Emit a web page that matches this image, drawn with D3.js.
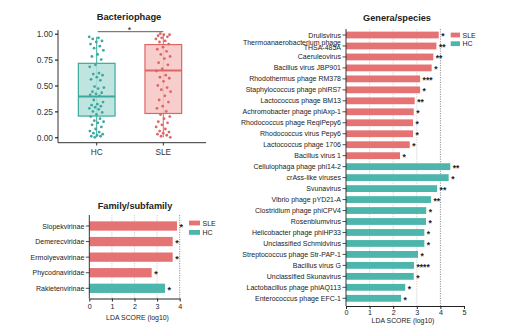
<!DOCTYPE html>
<html>
<head>
<meta charset="utf-8">
<script src="https://cdn.jsdelivr.net/npm/d3@7"></script>
<style>
  body { margin: 0; background: #fff; }
  svg { display: block; font-family: "Liberation Sans", Arial, sans-serif; }
</style>
</head>
<body>
<svg id="chart" width="510" height="331"></svg>
<script>
// --- data ---
const groups = ["HC", "SLE"];
// box stats: min, q1, median, q3, max
const boxStats = [
  [0.00, 0.205, 0.395, 0.714, 0.97],
  [0.00, 0.23, 0.645, 0.895, 1.00]
];
const hcPoints = [0.97, 0.96, 0.95, 0.93, 0.92, 0.90, 0.88, 0.86, 0.84, 0.80, 0.78, 0.75, 0.70, 0.68,
  0.62, 0.61, 0.60, 0.58, 0.56, 0.55, 0.49, 0.48, 0.47, 0.44, 0.43, 0.42, 0.41, 0.40, 0.36, 0.34,
  0.32, 0.31, 0.30, 0.29, 0.28, 0.27, 0.25, 0.24, 0.22, 0.20, 0.18, 0.16, 0.15, 0.14, 0.12, 0.10,
  0.08, 0.06, 0.05, 0.04, 0.03, 0.02, 0.01, 0.01, 0.00];
const slePoints = [1.00, 0.99, 0.99, 0.98, 0.97, 0.96, 0.95, 0.93, 0.92, 0.90, 0.87, 0.85, 0.83, 0.80,
  0.78, 0.76, 0.72, 0.70, 0.66, 0.64, 0.60, 0.58, 0.57, 0.54, 0.50, 0.48, 0.46, 0.44, 0.40, 0.36,
  0.34, 0.30, 0.28, 0.25, 0.22, 0.20, 0.18, 0.15, 0.14, 0.12, 0.10, 0.08, 0.06, 0.05, 0.04, 0.03,
  0.02, 0.01, 0.00];
const boxTicks = [0, 0.25, 0.5, 0.75, 1];

const famNames = ["Slopekvirinae", "Demerecviridae", "Ermolyevavirinae", "Phycodnaviridae", "Rakietenvirinae"];
const famScores = [3.88, 3.69, 3.69, 2.76, 3.35];
const famGroup = ["SLE", "SLE", "SLE", "SLE", "HC"];
const famStars = ["*", "*", "*", "*", "*"];

const genNames = ["Drulisvirus", "Thermoanaerobacterium phage|THSA-485A", "Caeruleovirus", "Bacillus virus JBP901",
  "Rhodothermus phage RM378", "Staphylococcus phage phiRS7", "Lactococcus phage BM13",
  "Achromobacter phage phiAxp-1", "Rhodococcus phage ReqiPepy6", "Rhodococcus virus Pepy6",
  "Lactococcus phage 1706", "Bacillus virus 1", "Cellulophaga phage phi14-2", "crAss-like viruses",
  "Svunavirus", "Vibrio phage pYD21-A", "Clostridium phage phiCPV4", "Rosenblumvirus",
  "Helicobacter phage phiHP33", "Unclassified Schmidvirus", "Streptococcus phage Str-PAP-1",
  "Bacillus virus G", "Unclassified Skunavirus", "Lactobacillus phage phiAQ113", "Enterococcus phage EFC-1"];
const genScores = [3.93, 3.83, 3.70, 3.63, 3.14, 3.14, 2.91, 2.87, 2.84, 2.84, 2.70, 2.29,
  4.42, 4.35, 3.86, 3.60, 3.40, 3.39, 3.32, 3.32, 3.05, 2.88, 2.87, 2.51, 2.33];
const genGroup = ["SLE", "SLE", "SLE", "SLE", "SLE", "SLE", "SLE", "SLE", "SLE", "SLE", "SLE", "SLE",
  "HC", "HC", "HC", "HC", "HC", "HC", "HC", "HC", "HC", "HC", "HC", "HC", "HC"];
const genStars = ["*", "**", "**", "*", "***", "*", "**", "*", "*", "*", "*", "*",
  "**", "*", "**", "**", "*", "*", "*", "*", "*", "****", "*", "*", "*"];

// --- colours ---
const col = { SLE: "#E57373", HC: "#4DB6AC" };
const fill = { SLE: "#F7C6C4", HC: "#B5DFDA" };
const dark = { SLE: "#E06666", HC: "#3AAA9E" };

const svg = d3.select("#chart");

// ===== Boxplot: Bacteriophage =====
const bx = d3.scalePoint().domain(groups).range([96.7, 163.3]);
const by = d3.scaleLinear().domain([0, 1]).range([137.3, 33.7]);
const bw = 36.7;
const gb = svg.append("g");

gb.append("text").attr("x", 129).attr("y", 20).attr("text-anchor", "middle")
  .attr("font-size", 9.3).attr("font-weight", "bold").attr("fill", "#222").text("Bacteriophage");

groups.forEach((g, i) => {
  const [mn, q1, md, q3, mx] = boxStats[i];
  const cx = bx(g);
  gb.append("line").attr("x1", cx).attr("x2", cx).attr("y1", by(mn)).attr("y2", by(mx))
    .attr("stroke", dark[g]).attr("stroke-width", 1);
  gb.append("rect").attr("x", cx - bw / 2).attr("y", by(q3)).attr("width", bw)
    .attr("height", by(q1) - by(q3)).attr("fill", fill[g]).attr("fill-opacity", 0.85)
    .attr("stroke", dark[g]).attr("stroke-width", 1.2);
  gb.append("line").attr("x1", cx - bw / 2).attr("x2", cx + bw / 2).attr("y1", by(md)).attr("y2", by(md))
    .attr("stroke", dark[g]).attr("stroke-width", 2);
  const pts = i === 0 ? hcPoints : slePoints;
  // deterministic jitter (golden-ratio sequence) from index
  gb.selectAll(null).data(pts).enter().append("circle")
    .attr("cx", (d, k) => cx + (((k * 0.618034 + i * 0.3) % 1) - 0.5) * 15)
    .attr("cy", d => by(d))
    .attr("r", 1.4)
    .attr("fill", dark[g]);
});

gb.append("g").attr("transform", "translate(58,0)")
  .call(d3.axisLeft(by).tickValues(boxTicks).tickFormat(d3.format(".2f")).tickSize(3).tickPadding(2).tickSizeOuter(0))
  .call(a => a.select(".domain").attr("d", "M0,30V142.7").attr("stroke", "#333"))
  .call(a => a.selectAll("text").attr("font-size", 8.4).attr("fill", "#333").attr("font-family", "Liberation Sans, Arial"));
gb.append("line").attr("x1", 58).attr("x2", 206).attr("y1", 142.7).attr("y2", 142.7).attr("stroke", "#333");
groups.forEach(g => {
  gb.append("line").attr("x1", bx(g)).attr("x2", bx(g)).attr("y1", 142.7).attr("y2", 145.5).attr("stroke", "#333");
  gb.append("text").attr("x", bx(g)).attr("y", 155).attr("text-anchor", "middle")
    .attr("font-size", 8.3).attr("fill", "#333").text(g);
});
gb.append("line").attr("x1", bx("HC") + 1).attr("x2", bx("SLE")).attr("y1", 31.7).attr("y2", 31.7)
  .attr("stroke", "#333").attr("stroke-width", 0.8);
gb.append("text").attr("x", 129.5).attr("y", 33).attr("text-anchor", "middle")
  .attr("font-size", 9).attr("fill", "#222").text("*");

// ===== helper for LDA bar panels =====
function ldaPanel(opt) {
  const g = svg.append("g");
  const x = d3.scaleLinear().domain([0, opt.xmax]).range([opt.x0, opt.x1]);
  const y = d3.scalePoint().domain(opt.names).range([opt.yTop, opt.yBot]);

  // gridlines
  opt.grid.forEach((v, k) => {
    g.append("line").attr("x1", x(v)).attr("x2", x(v)).attr("y1", opt.axTop).attr("y2", opt.axBot)
      .attr("stroke", k === opt.grid.length - 1 ? "#666" : "#bbb").attr("stroke-width", 0.7)
      .attr("stroke-dasharray", "1.2,1.2");
  });

  g.selectAll(null).data(opt.names).enter().append("rect")
    .attr("x", x(0))
    .attr("y", d => y(d) - opt.bh / 2)
    .attr("width", (d, i) => x(opt.scores[i]) - x(0))
    .attr("height", opt.bh)
    .attr("fill", (d, i) => col[opt.groups[i]]);

  g.selectAll(null).data(opt.names).enter().append("text")
    .attr("x", (d, i) => x(opt.scores[i]) + 2.5)
    .attr("y", d => y(d) + 4.4)
    .attr("font-size", opt.starSize).attr("font-weight", "bold").attr("fill", "#222")
    .text((d, i) => opt.stars[i]);

  // y axis
  g.append("line").attr("x1", x(0)).attr("x2", x(0)).attr("y1", opt.axTop).attr("y2", opt.axBot)
    .attr("stroke", "#222").attr("stroke-width", 0.9);
  opt.names.forEach(n => {
    g.append("line").attr("x1", x(0) - 3.5).attr("x2", x(0)).attr("y1", y(n)).attr("y2", y(n))
      .attr("stroke", "#222").attr("stroke-width", 0.8);
    const parts = n.split("|");
    if (parts.length === 1) {
      g.append("text").attr("x", x(0) - 5).attr("y", y(n) + 2.5).attr("text-anchor", "end")
        .attr("font-size", opt.fs).attr("fill", "#222").text(n);
    } else {
      g.append("text").attr("x", x(0) - 5).attr("y", y(n) - 1.3).attr("text-anchor", "end")
        .attr("font-size", opt.fs).attr("fill", "#222").text(parts[0]);
      g.append("text").attr("x", x(0) - 5).attr("y", y(n) + 4.0).attr("text-anchor", "end")
        .attr("font-size", opt.fs).attr("fill", "#222").text(parts[1]);
    }
  });

  // x axis
  g.append("g").attr("transform", `translate(0,${opt.axBot})`)
    .call(d3.axisBottom(x).ticks(opt.xmax).tickSize(3).tickPadding(opt.tickPad).tickSizeOuter(0))
    .call(a => a.select(".domain").attr("stroke", "#222"))
    .call(a => a.selectAll("line").attr("stroke", "#222"))
    .call(a => a.selectAll("text").attr("font-size", 7.2).attr("fill", "#222")
      .attr("font-family", "Liberation Sans, Arial"));
  g.append("text").attr("x", (opt.x0 + opt.x1) / 2 + opt.labShift).attr("y", opt.axBot + opt.labOff)
    .attr("text-anchor", "middle").attr("font-size", 6.9).attr("fill", "#222").text("LDA SCORE (log10)");

  g.append("text").attr("x", opt.titleX).attr("y", opt.titleY).attr("text-anchor", "middle")
    .attr("font-size", 9.2).attr("font-weight", "bold").attr("fill", "#222").text(opt.title);

  // legend
  ["SLE", "HC"].forEach((k, i) => {
    g.append("rect").attr("x", opt.legX).attr("y", opt.legY + i * opt.legStep).attr("width", opt.legW).attr("height", 4.8)
      .attr("fill", col[k]);
    g.append("text").attr("x", opt.legX + opt.legW + 2.5).attr("y", opt.legY + i * opt.legStep + 5)
      .attr("font-size", 7).attr("fill", "#222").text(k);
  });
}

ldaPanel({
  title: "Family/subfamily", titleX: 135, titleY: 208.5,
  names: famNames, scores: famScores, groups: famGroup, stars: famStars,
  xmax: 4, x0: 89.3, x1: 179.7, yTop: 226, yBot: 288.3, axTop: 215, axBot: 298.5,
  bh: 9.3, fs: 7, starSize: 9, grid: [1, 2, 3, 4], labShift: 3, labOff: 21, tickPad: 2,
  legX: 189, legY: 220.6, legStep: 9.4, legW: 11
});

ldaPanel({
  title: "Genera/species", titleX: 397, titleY: 20.5,
  names: genNames, scores: genScores, groups: genGroup, stars: genStars,
  xmax: 5, x0: 346, x1: 464, yTop: 35, yBot: 298.3, axTop: 29, axBot: 306,
  bh: 6.8, fs: 7, starSize: 8.5, grid: [1, 2, 3, 4], labShift: -2, labOff: 16.5, tickPad: 0.5,
  legX: 450.7, legY: 32.6, legStep: 8.7, legW: 9.3
});
</script>
</body>
</html>
